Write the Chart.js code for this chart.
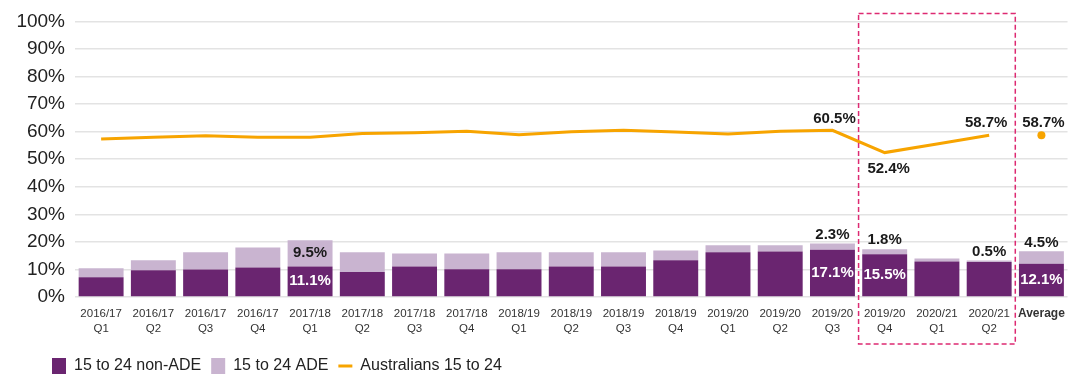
<!DOCTYPE html>
<html>
<head>
<meta charset="utf-8">
<script src="https://cdn.jsdelivr.net/npm/chart.js@4/dist/chart.umd.min.js"></script>
<style>
  html, body { margin: 0; padding: 0; background: #ffffff; }
  #wrap { width: 1074px; height: 377px; position: relative; }
</style>
</head>
<body>
<div id="wrap"><canvas id="c" width="1074" height="377"></canvas></div>
<script>
// ---- data ----
const categories = [
  ['2016/17','Q1'], ['2016/17','Q2'], ['2016/17','Q3'], ['2016/17','Q4'],
  ['2017/18','Q1'], ['2017/18','Q2'], ['2017/18','Q3'], ['2017/18','Q4'],
  ['2018/19','Q1'], ['2018/19','Q2'], ['2018/19','Q3'], ['2018/19','Q4'],
  ['2019/20','Q1'], ['2019/20','Q2'], ['2019/20','Q3'], ['2019/20','Q4'],
  ['2020/21','Q1'], ['2020/21','Q2'], ['Average']
];
const nonADE = [7.2, 9.7, 10.0, 10.7, 11.1, 9.1, 11.1, 10.1, 10.1, 11.1, 11.1, 13.3, 16.2, 16.5, 17.1, 15.5, 12.9, 12.7, 12.1];
const ADE    = [3.2, 3.6, 6.2, 7.3, 9.5, 7.1, 4.7, 5.7, 6.1, 5.1, 5.1, 3.6, 2.6, 2.3, 2.3, 1.8, 1.1, 0.5, 4.5];
const australians = [57.3, 58.0, 58.5, 58.0, 58.0, 59.3, 59.6, 60.1, 58.9, 60.0, 60.5, 59.9, 59.1, 60.1, 60.5, 52.4, 55.5, 58.7, 58.7];
const yTicks = [0, 10, 20, 30, 40, 50, 60, 70, 80, 90, 100];
const seriesNames = ['15 to 24 non-ADE', '15 to 24 ADE', 'Australians 15 to 24'];

// ---- styles ----
const DARK = '#6A2570', LIGHT = '#C9B4D0', ORANGE = '#F7A400', PINK = '#DD2A72';
const SANS = "'Liberation Sans', Arial, sans-serif";
const AVG = categories.length - 1;

const valueLabels = {
  id: 'valueLabels',
  afterDatasetsDraw(chart, args, opts) {
    const ctx = chart.ctx;
    ctx.save();
    ctx.textAlign = 'center';
    ctx.textBaseline = 'middle';
    ctx.font = 'bold 15px ' + SANS;
    opts.items.forEach(it => {
      const el = chart.getDatasetMeta(it.ds).data[it.i];
      const v = chart.data.datasets[it.ds].data[it.i];
      const text = v.toFixed(1) + '%';
      let y;
      if (it.place === 'inside') y = (el.y + el.base) / 2;
      else if (it.place === 'above') y = el.y - it.off;
      else y = el.y + it.off;
      ctx.fillStyle = it.color;
      ctx.fillText(text, el.x + (it.dx || 0), y);
    });
    ctx.restore();
  }
};

const highlightBox = {
  id: 'highlightBox',
  afterDraw(chart, args, opts) {
    const x = chart.scales.x, a = chart.chartArea;
    const half = (x.getPixelForValue(1) - x.getPixelForValue(0)) / 2;
    const l = x.getPixelForValue(opts.from) - half;
    const r = x.getPixelForValue(opts.to) + half;
    const ctx = chart.ctx;
    ctx.save();
    ctx.strokeStyle = opts.color;
    ctx.lineWidth = 1.5;
    ctx.setLineDash([5, 3]);
    ctx.strokeRect(l, a.top - opts.above, r - l, a.bottom - a.top + opts.above + opts.below);
    ctx.restore();
  }
};

const legendShift = {
  id: 'legendShift',
  afterLayout(chart, args, opts) {
    if (chart.legend) chart.legend.left += opts.dx;
  }
};

new Chart(document.getElementById('c'), {
  type: 'bar',
  data: {
    labels: categories,
    datasets: [
      { label: seriesNames[0], data: nonADE, backgroundColor: DARK, stack: 's', barPercentage: 0.86, categoryPercentage: 1 },
      { label: seriesNames[1], data: ADE, backgroundColor: LIGHT, stack: 's', barPercentage: 0.86, categoryPercentage: 1 },
      { label: seriesNames[2], type: 'line', data: australians, borderColor: ORANGE, backgroundColor: ORANGE,
        borderWidth: 3, tension: 0, fill: false,
        pointRadius: c => c.dataIndex === AVG ? 4 : 0,
        pointHoverRadius: 0,
        pointBorderWidth: 0,
        pointStyle: 'circle',
        segment: { borderColor: c => c.p1DataIndex === AVG ? 'rgba(0,0,0,0)' : ORANGE } }
    ]
  },
  options: {
    responsive: false,
    animation: false,
    events: [],
    layout: { padding: { top: 20, left: 0, right: 5, bottom: -7 } },
    scales: {
      x: {
        stacked: true,
        grid: { display: false, drawTicks: false },
        border: { display: false },
        ticks: {
          color: '#333333',
          padding: 9,
          maxRotation: 0,
          autoSkip: false,
          font: c => c.index === AVG
            ? { family: SANS, size: 12, weight: 'bold', lineHeight: 1.3 }
            : { family: SANS, size: 11.5, weight: 'normal', lineHeight: 1.3 }
        },
        afterFit: s => { s.height = 51; }
      },
      y: {
        stacked: true,
        min: yTicks[0], max: yTicks[yTicks.length - 1],
        afterBuildTicks: s => { s.ticks = yTicks.map(v => ({ value: v })); },
        grid: { color: '#E3E3E3', lineWidth: 1.5, drawTicks: false },
        border: { display: false },
        ticks: { color: '#222222', padding: 10, font: { family: SANS, size: 19 }, callback: v => v + '%' },
        afterFit: s => { s.width = 75; }
      }
    },
    plugins: {
      tooltip: { enabled: false },
      legend: {
        position: 'bottom',
        align: 'start',
        labels: {
          usePointStyle: true,
          pointStyleWidth: 14,
          boxHeight: 19,
          padding: 10,
          color: '#222222',
          font: { family: SANS, size: 16 },
          generateLabels: chart => {
            const items = Chart.defaults.plugins.legend.labels.generateLabels(chart);
            return items.map((it, k) => {
              if (k < 2) {
                it.pointStyle = 'rect';
                it.lineWidth = 0;
                it.strokeStyle = it.fillStyle;
              } else {
                it.pointStyle = 'line';
                it.lineWidth = 3;
                it.strokeStyle = ORANGE;
                it.fillStyle = ORANGE;
              }
              return it;
            });
          }
        }
      },
      legendShift: { dx: 42 },
      valueLabels: {
        items: [
          { ds: 0, i: 4, place: 'inside', color: '#ffffff' },
          { ds: 0, i: 14, place: 'inside', color: '#ffffff' },
          { ds: 0, i: 15, place: 'inside', color: '#ffffff' },
          { ds: 0, i: 18, place: 'inside', color: '#ffffff' },
          { ds: 1, i: 4, place: 'inside', color: '#1a1a1a' },
          { ds: 1, i: 14, place: 'above', off: 9, color: '#1a1a1a' },
          { ds: 1, i: 15, place: 'above', off: 9, color: '#1a1a1a' },
          { ds: 1, i: 17, place: 'above', off: 9, color: '#1a1a1a' },
          { ds: 1, i: 18, place: 'above', off: 8, color: '#1a1a1a' },
          { ds: 2, i: 14, place: 'above', off: 11, color: '#1a1a1a', dx: 2 },
          { ds: 2, i: 15, place: 'below', off: 16, color: '#1a1a1a', dx: 4 },
          { ds: 2, i: 17, place: 'above', off: 12, color: '#1a1a1a', dx: -3 },
          { ds: 2, i: 18, place: 'above', off: 12, color: '#1a1a1a', dx: 2 }
        ]
      },
      highlightBox: { from: 15, to: 17, above: 8, below: 47, color: PINK }
    }
  },
  plugins: [valueLabels, highlightBox, legendShift]
});
</script>
</body>
</html>
